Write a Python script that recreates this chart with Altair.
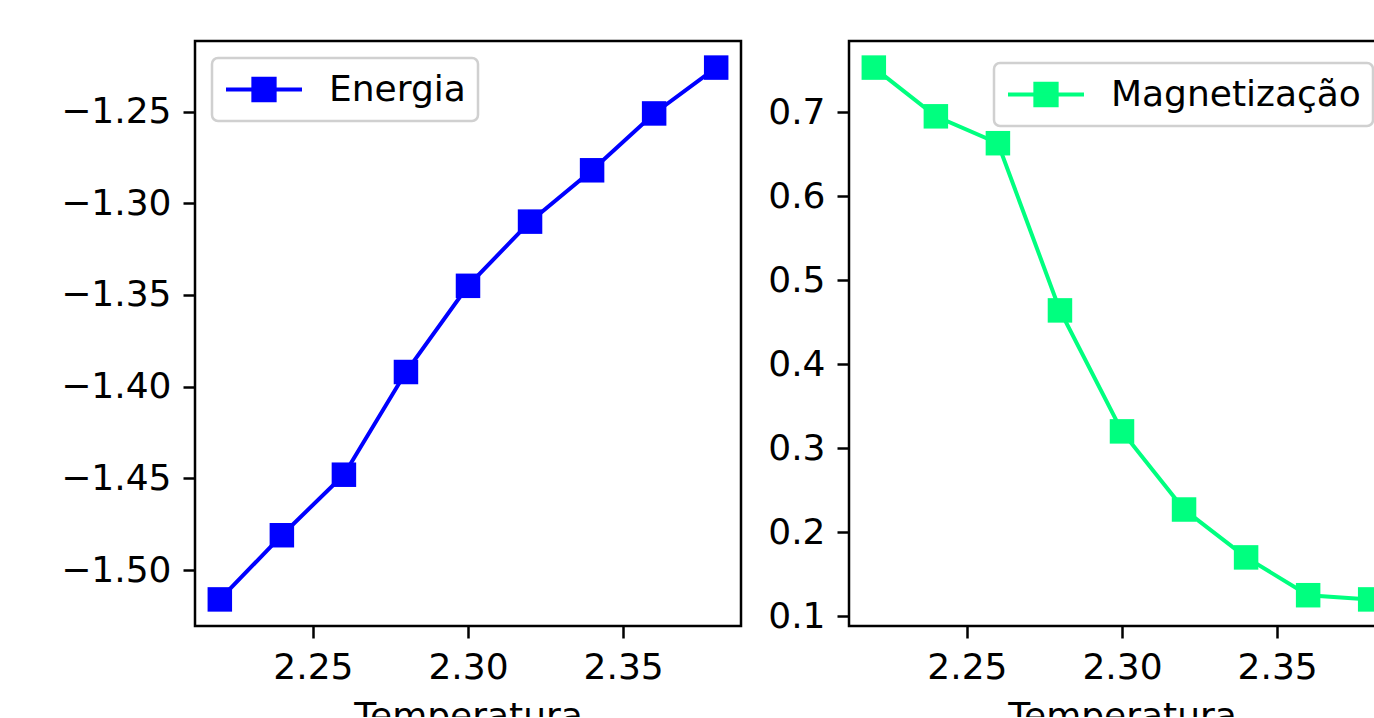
import altair as alt
import pandas as pd

temperatura = [2.22, 2.24, 2.26, 2.28, 2.30, 2.32, 2.34, 2.36, 2.38]
energia = [-1.516, -1.481, -1.448, -1.392, -1.345, -1.310, -1.282, -1.251, -1.226]
magnetizacao = [0.753, 0.695, 0.663, 0.464, 0.320, 0.227, 0.170, 0.125, 0.120]

x_ticks = [2.25, 2.30, 2.35]
e_ticks = [-1.50, -1.45, -1.40, -1.35, -1.30, -1.25]
m_ticks = [0.1, 0.2, 0.3, 0.4, 0.5, 0.6, 0.7]

FONT = "DejaVu Sans"
FS = 36
LEG_PATH = "M-1,0H1M-0.28,-0.28H0.28V0.28H-0.28Z"
PANEL_W = 546
PANEL_H = 585


def margin_domain(vals, frac=0.05):
    lo, hi = min(vals), max(vals)
    r = hi - lo
    return [lo - frac * r, hi + frac * r]


def panel(values, name, color, yfmt, yticks, legend_kw):
    df = pd.DataFrame({"T": temperatura, "v": values, "serie": [name] * len(values)})
    xenc = alt.X("T:Q",
                 scale=alt.Scale(domain=margin_domain(temperatura), nice=False, zero=False),
                 axis=alt.Axis(values=x_ticks, format=".2f", title="Temperatura"))
    yenc = alt.Y("v:Q",
                 scale=alt.Scale(domain=margin_domain(values), nice=False, zero=False),
                 axis=alt.Axis(values=yticks, format=yfmt, title=None))
    base = alt.Chart(df)
    line = base.mark_line(color=color, strokeWidth=4).encode(x=xenc, y=yenc)
    pts = base.mark_point(shape="square", filled=True, size=600, opacity=1).encode(
        x=xenc, y=yenc,
        color=alt.Color("serie:N",
                        scale=alt.Scale(domain=[name], range=[color]),
                        legend=alt.Legend(
                            title=None, padding=12,
                            cornerRadius=6, strokeColor="#d0d0d0",
                            fillColor="rgba(255,255,255,0.8)",
                            symbolType=LEG_PATH, symbolSize=5776,
                            symbolStrokeWidth=4, symbolStrokeColor=color,
                            symbolFillColor=color, symbolOpacity=1,
                            labelFontSize=FS, labelFont=FONT, labelColor="black",
                            labelOffset=25, clipHeight=39, labelLimit=400,
                            **legend_kw,
                        )))
    return alt.layer(line, pts).properties(width=PANEL_W, height=PANEL_H)


left = panel(energia, "Energia", "#0000ff", ".2f", e_ticks,
             dict(orient="top-left", offset=17))
right = panel(magnetizacao, "Magnetização", "#00ff7f", ".1f", m_ticks,
              dict(orient="top-right", offset=22))

# negative right/bottom padding crops the figure like the reference screenshot
chart = alt.hconcat(left, right, spacing=23).resolve_scale(
    color="independent", y="independent", x="independent"
).resolve_legend(color="independent").properties(
    padding={"left": 59, "top": 39, "right": -23, "bottom": -19},
    background="white",
).configure_view(
    stroke="black", strokeWidth=2.5
).configure_axis(
    grid=False, domain=False, tickColor="black", tickWidth=2.5, tickSize=12,
    labelFontSize=FS, labelFont=FONT, labelColor="black", labelPadding=12,
    titleFontSize=FS, titleFont=FONT, titleFontWeight="normal", titleColor="black",
    titlePadding=14,
).configure_legend(strokeWidth=2.5)

chart.save("out.html", embed_options={"renderer": "svg", "actions": False})
